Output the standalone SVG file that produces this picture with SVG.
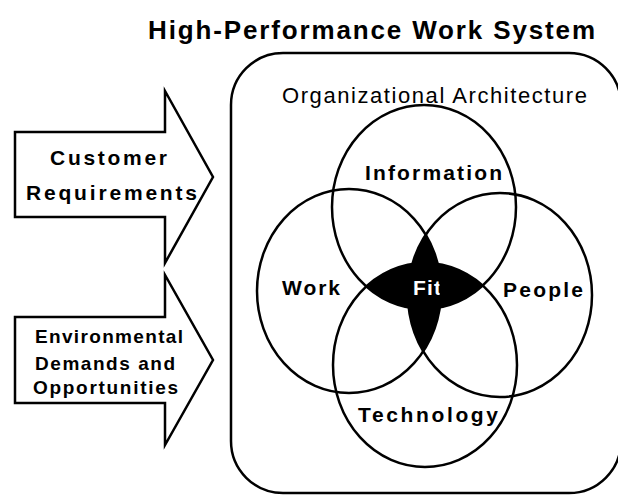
<svg xmlns="http://www.w3.org/2000/svg" width="618" height="495" viewBox="0 0 618 495">
<style>
  .ln{fill:none;stroke:#000;stroke-width:2.5}
  .arrow{fill:#fff;stroke:#000;stroke-width:2.5;stroke-linejoin:miter}
  .b{font-family:"Liberation Sans",Arial,sans-serif;font-weight:bold;fill:#000}
  .r{font-family:"Liberation Sans",Arial,sans-serif;fill:#000}
</style>
<defs>
  <clipPath id="cpWork"><ellipse cx="349" cy="291" rx="92" ry="102"/></clipPath>
  <clipPath id="cpInfo"><ellipse cx="424" cy="207" rx="92" ry="102"/></clipPath>
</defs>
<rect width="618" height="495" fill="#fff"/>
<g id="title">
  <text class="b" x="148" y="39" font-size="26" textLength="447" lengthAdjust="spacing">High-Performance Work System</text>
</g>
<g id="architecture">
  <rect class="ln" x="231" y="53" width="390" height="440" rx="52" ry="52" stroke-width="3"/>
  <text class="r" x="282" y="103" font-size="22" textLength="305" lengthAdjust="spacing">Organizational Architecture</text>
</g>
<g id="arrow-customer">
  <polygon class="arrow" points="15,132 165,132 165,91 213,177 165,263 165,217 15,217"/>
  <text class="b" x="50" y="165" font-size="21" textLength="117" lengthAdjust="spacing">Customer</text>
  <text class="b" x="26" y="200" font-size="21" textLength="171" lengthAdjust="spacing">Requirements</text>
</g>
<g id="arrow-environment">
  <polygon class="arrow" points="15,317 165,317 165,275 213,360 165,445 165,403 15,403"/>
  <text class="b" x="35" y="343" font-size="19" textLength="148" lengthAdjust="spacing">Environmental</text>
  <text class="b" x="35" y="370" font-size="19" textLength="140" lengthAdjust="spacing">Demands and</text>
  <text class="b" x="33" y="394" font-size="19" textLength="145" lengthAdjust="spacing">Opportunities</text>
</g>
<g id="fit">
  <ellipse cx="500" cy="295" rx="92" ry="102" fill="#000" clip-path="url(#cpWork)"/>
  <ellipse cx="425" cy="365" rx="92" ry="102" fill="#000" clip-path="url(#cpInfo)"/>
  <text class="b" x="413" y="295" font-size="21" style="fill:#fff" textLength="28" lengthAdjust="spacing">Fit</text>
</g>
<g id="information">
  <ellipse class="ln" cx="424" cy="207" rx="92" ry="102"/>
  <text class="b" x="365" y="180" font-size="21" textLength="137" lengthAdjust="spacing">Information</text>
</g>
<g id="work">
  <ellipse class="ln" cx="349" cy="291" rx="92" ry="102"/>
  <text class="b" x="282" y="295" font-size="21" textLength="58" lengthAdjust="spacing">Work</text>
</g>
<g id="people">
  <ellipse class="ln" cx="500" cy="295" rx="92" ry="102"/>
  <text class="b" x="503" y="297" font-size="21" textLength="80" lengthAdjust="spacing">People</text>
</g>
<g id="technology">
  <ellipse class="ln" cx="425" cy="365" rx="92" ry="102"/>
  <text class="b" x="358" y="422" font-size="21" textLength="140" lengthAdjust="spacing">Technology</text>
</g>
</svg>
